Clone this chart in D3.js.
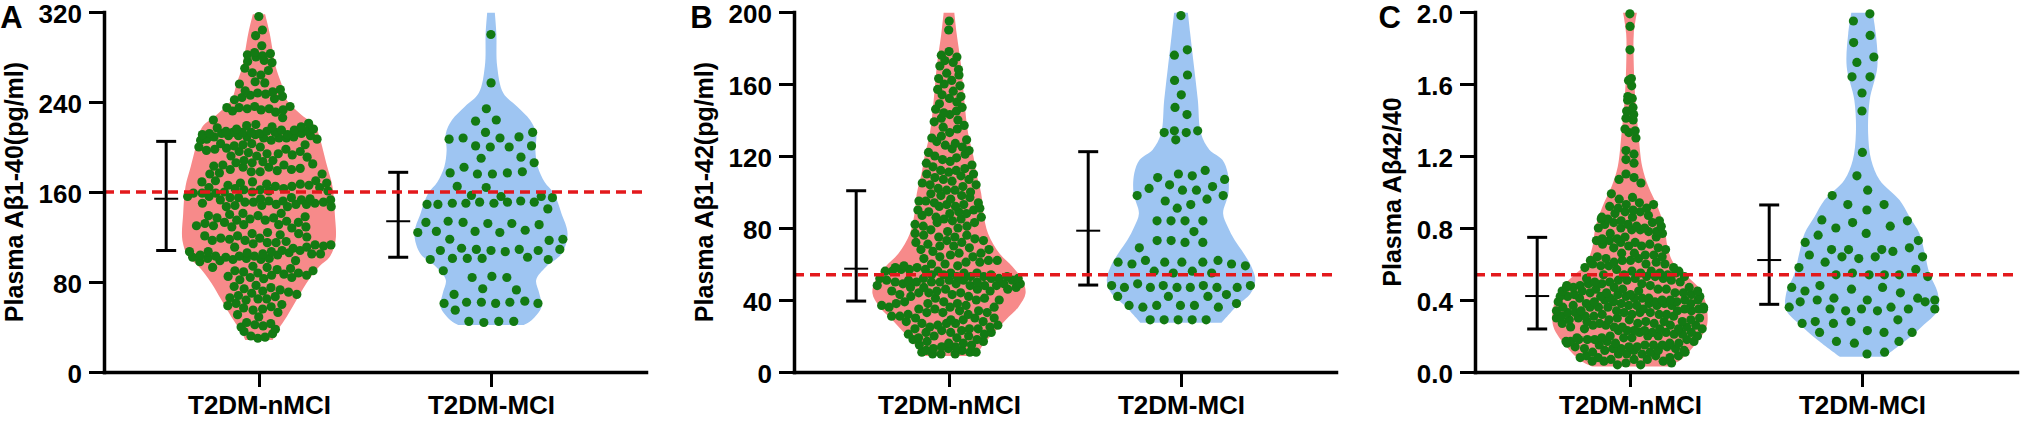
<!DOCTYPE html>
<html>
<head>
<meta charset="utf-8">
<script src="https://cdn.jsdelivr.net/npm/d3@7"></script>
<style>
  body { margin: 0; background: #fff; }
  text { font-family: Arial, "Liberation Sans", Helvetica, sans-serif; font-weight: bold; }
</style>
</head>
<body>
<svg id="chart" width="2022" height="421"></svg>
<script>
// ---- data ----
const categories = ["T2DM-nMCI", "T2DM-MCI"];
const panel_letters = ["A", "B", "C"];
const y_titles = ["Plasma Aβ1-40(pg/ml)", "Plasma Aβ1-42(pg/ml)", "Plasma Aβ42/40"];
const y_domains = [[0, 320], [0, 200], [0, 2]];
const y_ticks = [[0, 80, 160, 240, 320], [0, 40, 80, 120, 160, 200], [0, 0.4, 0.8, 1.2, 1.6, 2.0]];
const y_formats = ["d", "d", ".1f"];
const cutoffs = [160, 54, 0.54];

// error bars: [nMCI, MCI]
const bar_mid = [[154, 134], [57.4, 78.5], [0.422, 0.622]];
const bar_low = [[108, 102], [39.4, 48.3], [0.239, 0.376]];
const bar_high = [[205, 177.5], [100.7, 122.4], [0.748, 0.928]];

const abeta40_nMCI = [316,304,299,290,
  284,283,282,281,280,277,276,275,
  270,268,266,264,
  258,257,256,
  251,250,249,248,247,246,245,244,243,242,
  236,236,235,235,234,234,233,233,232,231,
  226,224,
  221,220,219,218,218,217,216,216,215,214,213,212,
  215,214,214,213,213,213,212,212,212,211,211,211,210,210,210,209,209,209,208,208,208,207,207,206,206,
  203,203,202,202,201,200,200,199,198,198,197,196,196,195,194,194,193,192,192,191,
  188,188,187,186,186,185,184,184,183,182,182,181,180,180,179,178,178,177,176,176,
  170,170,169,169,168,168,167,167,166,166,165,165,164,164,163,163,162,162,161,161,160,160,159,159,159,
  156,156,155,155,155,154,154,153,153,153,152,152,151,151,151,150,150,149,149,149,148,148,147,147,147,
  141,141,140,139,139,138,137,137,136,135,135,134,133,133,132,131,131,130,130,129,129,128,
  124,123,123,122,121,121,120,119,119,118,117,117,116,115,115,114,113,113,112,111,111,110,
  108,108,107,107,107,106,106,105,105,105,104,104,103,103,103,102,102,101,101,101,100,100,99,99,98,
  94,93,93,92,91,90,90,89,88,88,87,86,86,85,84,84,83,82,
  77,76,75,74,73,72,71,70,69,68,67,66,65,65,64,
  61,60,59,58,57,56,55,53,51,49,
  44,43,42,41,40,38,36,34,
  32,31,30];
const abeta40_MCI = [300,257,234,224,223,213,213,209,208,208,207,201,201,200,200,191,190,186,182,
  178,177,177,176,176,165,164,157,156,156,155,152,151,151,151,150,150,150,149,149,145,
  134,133,133,132,132,131,126,125,125,124,124,118,118,117,110,109,109,109,108,108,108,107,
  102,101,101,101,100,100,90,85,84,84,74,73,69,63,62,62,62,61,61,61,55,45,45,45,44];

const abeta42_nMCI = [195,190,
  178,176,175,173,172,170,
  168,166,165,163,162,160,159,157,156,154,153,152,
  150,149,147,146,145,144,143,141,140,139,137,136,135,133,
  131,130,129,128,127,126,125,124,123,122,121,120,119,118,117,116,115,114,
  113,112,112,111,110,110,109,108,107,107,106,105,104,104,103,102,101,101,100,99,98,98,97,96,
  95,95,94,94,93,93,92,92,91,90,90,89,89,88,88,87,86,86,85,85,84,83,83,82,81,81,80,79,78,77,
  76,76,75,75,74,73,73,72,72,71,70,70,69,68,68,67,66,66,65,64,64,63,62,62,61,61,60,60,59,59,
  58,58,57,57,57,56,56,56,55,55,55,54,54,54,53,53,53,53,52,52,52,52,52,51,51,51,51,51,
  50,50,50,50,50,49,49,49,49,48,48,48,48,47,47,47,46,46,46,45,45,45,44,44,44,43,43,42,42,41,41,40,
  40,39,39,38,38,38,37,37,36,36,36,35,35,34,34,33,33,33,32,32,31,31,30,30,30,29,29,28,28,
  27,27,27,26,26,25,25,24,24,24,23,23,22,22,22,21,
  21,20,20,19,19,18,18,17,17,16,16,15,15,14,14,13,13,12,12,11,11,11,10,10,10];
const abeta42_MCI = [198,179,176,165,162,154,147,143,134,134,133,133,129,112,110,109,107,108,104,
  101,103,102,101,96,95,98,98,93,91,84,84,84,84,78,73,72,73,72,69,62,61,61,60,61,61,62,60,59,
  56,55,56,55,48,47,47,47,48,48,49,47,48,47,47,42,42,43,42,37,37,37,36,37,38,36,29,29,29,29,29];

const ratio_nMCI = [1.99,1.92,1.79,
  1.63,1.62,1.59,
  1.53,1.52,1.51,
  1.47,1.45,1.43,1.41,1.40,
  1.35,1.34,1.33,
  1.30,
  1.23,1.21,1.18,1.16,
  1.10,1.08,1.07,1.05,
  0.99,0.97,0.96,
  0.94,0.93,0.93,0.92,0.91,0.91,0.90,0.89,0.89,0.88,
  0.87,0.86,0.86,0.85,0.85,0.84,0.84,0.83,0.83,0.82,0.82,0.81,0.81,0.80,0.80,0.80,0.79,0.79,0.78,0.78,0.77,0.77,
  0.75,0.75,0.74,0.74,0.73,0.73,0.72,0.72,0.71,0.71,0.70,0.70,0.69,0.69,0.68,
  0.66,0.66,0.65,0.65,0.64,0.64,0.63,0.63,0.62,0.62,0.62,0.61,0.61,0.60,0.60,0.60,0.59,0.59,0.58,0.58,
  0.57,0.56,0.56,0.56,0.55,0.55,0.55,0.54,0.54,0.54,0.53,0.53,0.53,0.52,0.52,0.52,0.51,0.51,0.51,0.50,0.50,0.50,0.49,0.49,0.49,
  0.48,0.48,0.48,0.47,0.47,0.47,0.47,0.46,0.46,0.46,0.46,0.45,0.45,0.45,0.45,0.44,0.44,0.44,0.44,
  0.43,0.43,0.43,0.43,0.42,0.42,0.42,0.42,0.42,0.41,0.41,0.41,0.41,0.41,0.40,0.40,0.40,0.40,0.40,
  0.39,0.39,0.39,0.39,0.39,0.38,0.38,0.38,0.38,0.38,0.37,0.37,0.37,0.37,0.37,0.36,0.36,0.36,0.36,0.36,
  0.35,0.35,0.35,0.35,0.34,0.34,0.34,0.34,0.34,0.33,0.33,0.33,0.33,0.33,0.32,0.32,0.32,0.32,0.31,0.31,0.31,0.31,
  0.30,0.30,0.30,0.30,0.29,0.29,0.29,0.29,0.28,0.28,0.28,0.28,0.27,0.27,0.27,0.27,0.26,0.26,0.26,
  0.26,0.25,0.25,0.25,0.25,0.24,0.24,0.24,0.24,0.23,0.23,0.23,0.23,0.22,0.22,0.22,0.22,0.21,0.21,
  0.20,0.20,0.20,0.20,0.19,0.19,0.19,0.19,0.18,0.18,0.18,0.18,0.17,0.17,0.17,0.17,0.16,0.16,
  0.16,0.16,0.15,0.15,0.15,0.15,0.14,0.14,0.14,0.14,0.13,0.13,0.13,0.13,0.12,0.12,0.12,0.12,
  0.11,0.11,0.11,0.10,0.10,0.10,0.09,0.09,0.09,0.08,0.08,0.08,0.07,0.07,0.07,0.06,0.06,0.06,0.05,0.05,0.04,0.04];
const ratio_MCI = [1.99,1.95,1.87,1.83,1.75,1.72,1.64,1.64,1.55,1.45,1.22,1.09,1.01,0.98,0.93,0.93,0.90,
  0.84,0.83,0.845,0.81,0.80,0.77,0.76,0.73,0.72,0.69,0.68,0.68,0.68,0.67,0.64,0.64,0.64,0.63,0.65,
  0.61,0.58,0.57,0.54,0.54,0.55,0.53,0.54,0.54,0.47,0.47,0.46,0.48,0.44,0.45,0.40,0.40,0.39,0.41,
  0.40,0.39,0.41,0.35,0.35,0.34,0.36,0.35,0.35,0.34,0.36,0.28,0.28,0.27,0.29,0.27,0.22,0.22,0.23,
  0.22,0.17,0.16,0.17,0.11,0.10];

// violin outlines: [value, relative half-width]
const violin40_nMCI = [[28.5,.18],[34.5,.22],[49,.36],[64,.49],[79,.62],[94,.79],[102,.92],[117,1],
  [141,.99],[165,.96],[183,.89],[209,.79],[218,.74],[230,.53],[242,.36],[257,.29],[271,.22],[301,.14],[318,.08]];
const violin40_MCI = [[41.8,.43],[46,.53],[58,.66],[70,.63],[81.8,.59],[93.6,.72],[105,.92],[123,1],
  [141,.92],[158.8,.82],[169,.70],[182.5,.61],[197,.58],[212,.59],[224,.51],[236,.34],[248,.16],
  [272,.08],[301,.07],[319.4,.05]];
const violin42_nMCI = [[8.9,.37],[14.1,.43],[21.5,.58],[28.9,.74],[36.3,.91],[43.7,1],[51,.96],[58.5,.83],
  [65.9,.66],[77,.51],[88.1,.45],[99.3,.42],[110,.36],[119.6,.32],[132.6,.25],[151,.20],[169.6,.16],
  [188,.10],[199.6,.07]];
const violin42_MCI = [[27.4,.53],[36.3,.72],[43.7,.91],[51,.97],[58.5,.92],[65.9,.82],[73.3,.70],[80.7,.61],
  [88.1,.55],[99.3,.62],[110.5,.61],[117.9,.54],[123.5,.37],[132.6,.26],[151,.22],[169.6,.17],
  [188,.12],[199.6,.09]];
const violinRatio_nMCI = [[0.03,.49],[0.067,.66],[0.141,.83],[0.252,1],[0.363,1],[0.456,.92],[0.53,.75],
  [0.604,.57],[0.696,.49],[0.807,.45],[0.918,.36],[1.03,.24],[1.14,.16],[1.326,.11],[1.51,.07],
  [1.696,.05],[1.88,.05],[1.996,.09]];
const violinRatio_MCI = [[0.085,.29],[0.178,.58],[0.252,.78],[0.344,.99],[0.437,.99],[0.548,.88],
  [0.659,.82],[0.77,.75],[0.863,.62],[0.955,.49],[1.067,.23],[1.178,.12],[1.326,.08],[1.51,.10],
  [1.696,.20],[1.88,.18],[1.996,.14]];

const panel_values = [[abeta40_nMCI, abeta40_MCI], [abeta42_nMCI, abeta42_MCI], [ratio_nMCI, ratio_MCI]];
const panel_violins = [[violin40_nMCI, violin40_MCI], [violin42_nMCI, violin42_MCI], [violinRatio_nMCI, violinRatio_MCI]];

// ---- layout ----
const svg = d3.select("svg#chart");
const axis_left = [104, 794, 1475];
const plot_width = 542;
const top_y = 12, bottom_y = 372;
const violin_colors = ["#f78a8a", "#9ec5f2"];
const dot_color = "#137a13";
const cut_color = "#e3191c";
const dot_r = 4.6;
const collide_r = [[4.4, 7.5], [4.4, 7], [4.4, 9]];

// beeswarm kept inside the violin outline
function swarm(values, cx, y, hw, rc) {
  const nodes = values.slice().sort((a, b) => a - b)
    .map((v, i) => ({ v: v, x: cx + (i % 2 ? 1 : -1) * (i % 7), y: y(v), fy: y(v) }));
  const sim = d3.forceSimulation(nodes)
    .force("x", d3.forceX(cx).strength(0.04))
    .force("collide", d3.forceCollide(rc).iterations(3))
    .stop();
  for (let i = 0; i < 300; i++) {
    sim.tick();
    nodes.forEach(n => {
      const lim = Math.max(0, hw(n.y) - 3);
      if (n.x > cx + lim) { n.x = cx + lim; n.vx = 0; }
      if (n.x < cx - lim) { n.x = cx - lim; n.vx = 0; }
    });
  }
  return nodes;
}

panel_letters.forEach((letter, p) => {
  const x0 = axis_left[p];
  const y = d3.scaleLinear(y_domains[p], [bottom_y, top_y]);
  const x = d3.scalePoint(categories, [x0, x0 + plot_width]).padding(0.668);
  const step = x.step();
  const half_w = d3.scaleLinear([0, 1], [0, step * 0.33]);

  const g = svg.append("g").attr("class", "panel_" + letter);

  // violins
  const area = d3.area()
    .y(d => y(d[0]))
    .curve(d3.curveCatmullRom);
  categories.forEach((c, k) => {
    const cx = x(c);
    g.append("path")
      .datum(panel_violins[p][k])
      .attr("d", area.x0(d => cx - half_w(d[1])).x1(d => cx + half_w(d[1])))
      .attr("fill", violin_colors[k]);
  });

  // dots
  categories.forEach((c, k) => {
    const prof = panel_violins[p][k];
    const hw = d3.scaleLinear(prof.map(d => y(d[0])), prof.map(d => half_w(d[1]))).clamp(true);
    const nodes = swarm(panel_values[p][k], x(c), y, hw, collide_r[p][k]);
    g.selectAll("circle.dot_" + k)
      .data(nodes)
      .join("circle")
      .attr("class", "dot_" + k)
      .attr("cx", d => d.x)
      .attr("cy", d => d.y)
      .attr("r", dot_r)
      .attr("fill", dot_color);
  });

  // error bars
  categories.forEach((c, k) => {
    const bx = x(c) - step * 0.4;
    const eb = g.append("g").attr("stroke", "black").attr("fill", "none");
    eb.append("line").attr("x1", bx).attr("x2", bx)
      .attr("y1", y(bar_low[p][k])).attr("y2", y(bar_high[p][k])).attr("stroke-width", 3);
    [bar_low[p][k], bar_high[p][k]].forEach(v => {
      eb.append("line").attr("x1", bx - 10).attr("x2", bx + 10)
        .attr("y1", y(v)).attr("y2", y(v)).attr("stroke-width", 3);
    });
    eb.append("line").attr("x1", bx - 12).attr("x2", bx + 12)
      .attr("y1", y(bar_mid[p][k])).attr("y2", y(bar_mid[p][k])).attr("stroke-width", 2);
  });

  // cutoff line
  g.append("line")
    .attr("x1", x0).attr("x2", x0 + plot_width)
    .attr("y1", y(cutoffs[p])).attr("y2", y(cutoffs[p]))
    .attr("stroke", cut_color).attr("stroke-width", 3.5)
    .attr("stroke-dasharray", "10,6");

  // axes
  const y_axis = g.append("g")
    .attr("transform", `translate(${x0},0)`)
    .call(d3.axisLeft(y).tickValues(y_ticks[p]).tickFormat(d3.format(y_formats[p]))
      .tickSize(15).tickSizeOuter(0).tickPadding(7));
  const x_axis = g.append("g")
    .attr("transform", `translate(0,${bottom_y})`)
    .call(d3.axisBottom(x).tickSize(15).tickSizeOuter(0).tickPadding(9));
  [y_axis, x_axis].forEach(a => {
    a.select(".domain").attr("stroke-width", 3.5).attr("stroke-linecap", "square");
    a.selectAll(".tick line").attr("stroke-width", 3);
    a.selectAll("text").attr("font-size", 26).attr("fill", "black")
      .style("font-family", "Arial, 'Liberation Sans', sans-serif").style("font-weight", "bold");
  });
  y_axis.selectAll(".tick text").attr("dy", "0.4em");

  const labels_left = d3.min(y_axis.selectAll(".tick text").nodes(), n => x0 + n.getBBox().x);

  g.append("text")
    .attr("transform", `translate(${labels_left - 16},${(top_y + bottom_y) / 2}) rotate(-90)`)
    .attr("text-anchor", "middle")
    .attr("font-size", 25)
    .text(y_titles[p]);

  g.append("text")
    .attr("x", labels_left - 16)
    .attr("y", 28)
    .attr("text-anchor", "end")
    .attr("font-size", 31)
    .text(letter);
});
</script>
</body>
</html>
